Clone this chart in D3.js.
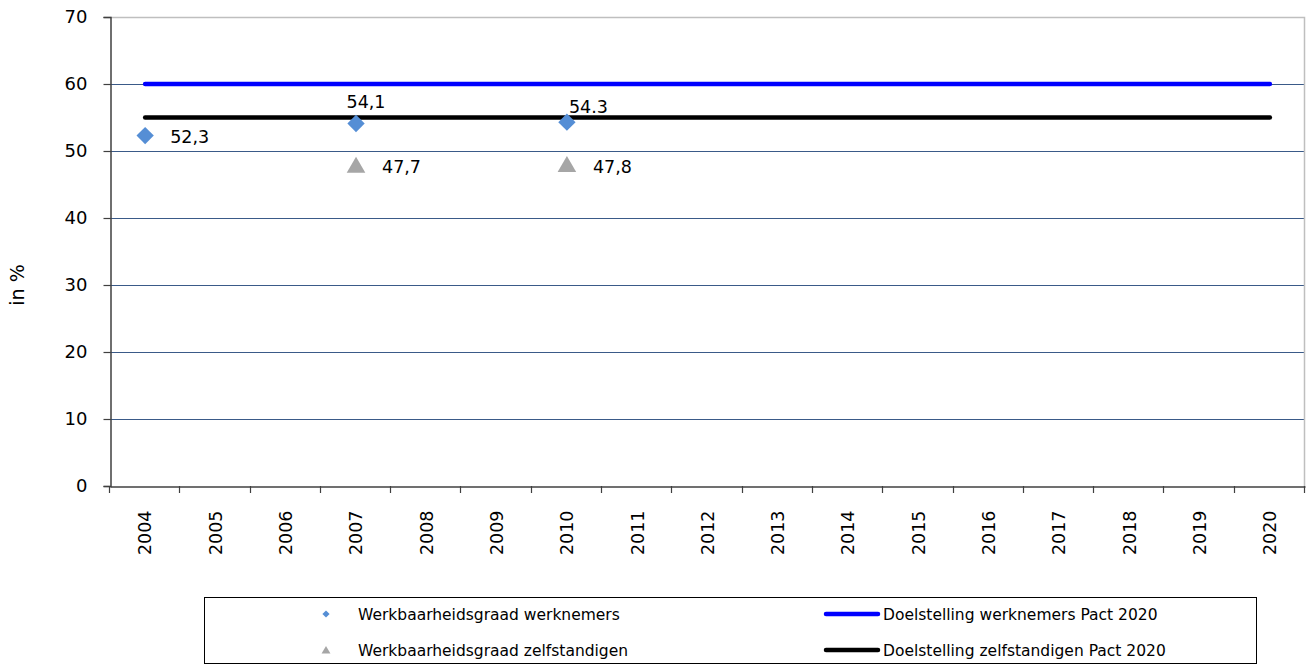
<!DOCTYPE html>
<html>
<head>
<meta charset="utf-8">
<script src="https://cdn.jsdelivr.net/npm/d3@7"></script>
<style>
  body { margin: 0; background: #fff; }
  svg { display: block; font-family: "DejaVu Sans", Verdana, sans-serif; }
</style>
</head>
<body>
<div id="chart"></div>
<script>
var years = ['2004', '2005', '2006', '2007', '2008', '2009', '2010', '2011', '2012',
  '2013', '2014', '2015', '2016', '2017', '2018', '2019', '2020'];
var yTicks = [0, 10, 20, 30, 40, 50, 60, 70];

var werknemersYears = ['2004', '2007', '2010'];
var werknemersValues = [52.3, 54.1, 54.3];
var werknemersLabels = ['52,3', '54,1', '54.3'];

var zelfstandigenYears = ['2007', '2010'];
var zelfstandigenValues = [47.7, 47.8];
var zelfstandigenLabels = ['47,7', '47,8'];

var doelWerknemers = [60, 60];
var doelZelfstandigen = [55, 55];
var doelYears = ['2004', '2020'];

var seriesNames = ['Werkbaarheidsgraad werknemers', 'Werkbaarheidsgraad zelfstandigen',
  'Doelstelling werknemers Pact 2020', 'Doelstelling zelfstandigen Pact 2020'];

var Chart = function() {
  var width = 1306,
    height = 664,
    plotLeft = 110,
    plotRight = 1305,
    plotTop = 17,
    plotBottom = 486;

  var svg = d3.select('#chart')
    .append('svg')
    .attr('width', width)
    .attr('height', height);

  var x = d3.scaleBand().domain(years).range([plotLeft, plotRight]).padding(0);
  var y = d3.scaleLinear().domain([0, 70]).range([plotBottom, plotTop]);
  var cx = function(d) { return x(d) + x.bandwidth() / 2; };

  // gridlines
  svg.append('g')
    .selectAll('line')
    .data(yTicks.slice(1, -1))
    .enter().append('line')
    .attr('x1', plotLeft).attr('x2', plotRight)
    .attr('y1', function(d) { return Math.round(y(d)) + 0.5; })
    .attr('y2', function(d) { return Math.round(y(d)) + 0.5; })
    .attr('stroke', '#3a5a88')
    .attr('stroke-width', 1);

  // top & right border
  svg.append('path')
    .attr('d', 'M' + plotLeft + ',' + (plotTop + 0.5) + 'H' + (plotRight - 0.5) + 'V' + plotBottom)
    .attr('fill', 'none')
    .attr('stroke', '#bfbfbf')
    .attr('stroke-width', 1.5);

  // y axis
  var yAxis = svg.append('g')
    .attr('transform', 'translate(' + (plotLeft + 0.5) + ',0)')
    .call(d3.axisLeft(y).tickValues(yTicks).tickSize(7).tickPadding(16));
  yAxis.select('.domain').attr('stroke', '#404040').attr('stroke-width', 1.5);
  yAxis.selectAll('.tick line').attr('stroke', '#404040').attr('stroke-width', 1.2);
  yAxis.selectAll('.tick text')
    .attr('font-size', 18)
    .attr('font-family', '"DejaVu Sans", Verdana, sans-serif')
    .attr('fill', '#000');

  // x axis
  var xAxis = svg.append('g')
    .attr('transform', 'translate(0,' + (plotBottom + 0.5) + ')')
    .call(d3.axisBottom(x).tickSize(0).tickPadding(0));
  xAxis.select('.domain').attr('stroke', '#404040').attr('stroke-width', 1.5);
  xAxis.selectAll('.tick text')
    .attr('font-size', 17.5)
    .attr('font-family', '"DejaVu Sans", Verdana, sans-serif')
    .attr('fill', '#000')
    .attr('transform', 'rotate(-90)')
    .attr('text-anchor', 'end')
    .attr('x', -24)
    .attr('y', 0)
    .attr('dy', '0.36em');

  svg.append('g')
    .selectAll('line')
    .data(d3.range(years.length + 1))
    .enter().append('line')
    .attr('x1', function(i) { return Math.round(plotLeft + i * x.bandwidth()) - 0.5; })
    .attr('x2', function(i) { return Math.round(plotLeft + i * x.bandwidth()) - 0.5; })
    .attr('y1', plotBottom)
    .attr('y2', plotBottom + 7)
    .attr('stroke', '#404040')
    .attr('stroke-width', 1.2);

  // y axis title
  svg.append('text')
    .attr('transform', 'translate(24,285) rotate(-90)')
    .attr('text-anchor', 'middle')
    .attr('font-size', 19)
    .text('in %');

  // target lines
  var line = d3.line()
    .x(function(d) { return cx(d[0]); })
    .y(function(d) { return y(d[1]); });

  svg.append('path')
    .datum(d3.zip(doelYears, doelWerknemers))
    .attr('d', line)
    .attr('fill', 'none')
    .attr('stroke', '#0000ff')
    .attr('stroke-width', 4.5)
    .attr('stroke-linecap', 'round');

  svg.append('path')
    .datum(d3.zip(doelYears, doelZelfstandigen))
    .attr('d', line)
    .attr('fill', 'none')
    .attr('stroke', '#000')
    .attr('stroke-width', 4.5)
    .attr('stroke-linecap', 'round');

  // markers
  var diamond = d3.symbol().type(d3.symbolSquare).size(150)();
  var triangle = d3.symbol().type(d3.symbolTriangle).size(150)();

  svg.append('g')
    .selectAll('path')
    .data(d3.zip(werknemersYears, werknemersValues))
    .enter().append('path')
    .attr('d', diamond)
    .attr('transform', function(d) { return 'translate(' + cx(d[0]) + ',' + y(d[1]) + ') rotate(45)'; })
    .attr('fill', '#558ed5');

  svg.append('g')
    .selectAll('path')
    .data(d3.zip(zelfstandigenYears, zelfstandigenValues))
    .enter().append('path')
    .attr('d', triangle)
    .attr('transform', function(d) { return 'translate(' + cx(d[0]) + ',' + (y(d[1]) + 1) + ')'; })
    .attr('fill', '#a6a6a6');

  // data labels (offset per point, as placed in the original)
  var wOffsets = [[25, 7, 'start'], [10, -16, 'middle'], [2, -9, 'start']];
  svg.append('g')
    .selectAll('text')
    .data(d3.zip(werknemersYears, werknemersValues, werknemersLabels))
    .enter().append('text')
    .attr('x', function(d, i) { return cx(d[0]) + wOffsets[i][0]; })
    .attr('y', function(d, i) { return y(d[1]) + wOffsets[i][1]; })
    .attr('text-anchor', function(d, i) { return wOffsets[i][2]; })
    .attr('font-size', 17.5)
    .text(function(d) { return d[2]; });

  svg.append('g')
    .selectAll('text')
    .data(d3.zip(zelfstandigenYears, zelfstandigenValues, zelfstandigenLabels))
    .enter().append('text')
    .attr('x', function(d) { return cx(d[0]) + 26; })
    .attr('y', function(d) { return y(d[1]) + 7; })
    .attr('font-size', 17.5)
    .text(function(d) { return d[2]; });

  // legend
  var legend = svg.append('g');
  legend.append('rect')
    .attr('x', 204.5).attr('y', 597.5)
    .attr('width', 1052).attr('height', 66)
    .attr('fill', '#fff')
    .attr('stroke', '#000')
    .attr('stroke-width', 1);

  var legendRows = [614, 650];
  legend.append('path')
    .attr('d', d3.symbol().type(d3.symbolSquare).size(26)())
    .attr('transform', 'translate(326,' + legendRows[0] + ') rotate(45)')
    .attr('fill', '#558ed5');
  legend.append('path')
    .attr('d', d3.symbol().type(d3.symbolTriangle).size(34)())
    .attr('transform', 'translate(326,' + (legendRows[1] + 1) + ')')
    .attr('fill', '#a6a6a6');
  legend.append('line')
    .attr('x1', 826).attr('x2', 878)
    .attr('y1', legendRows[0]).attr('y2', legendRows[0])
    .attr('stroke', '#0000ff').attr('stroke-width', 4.5).attr('stroke-linecap', 'round');
  legend.append('line')
    .attr('x1', 826).attr('x2', 878)
    .attr('y1', legendRows[1]).attr('y2', legendRows[1])
    .attr('stroke', '#000').attr('stroke-width', 4.5).attr('stroke-linecap', 'round');

  legend.selectAll('text')
    .data(seriesNames)
    .enter().append('text')
    .attr('x', function(d, i) { return i < 2 ? 358 : 883; })
    .attr('y', function(d, i) { return legendRows[i % 2]; })
    .attr('dy', '0.36em')
    .attr('font-size', 15.5)
    .text(function(d) { return d; });
};

Chart();
</script>
</body>
</html>
